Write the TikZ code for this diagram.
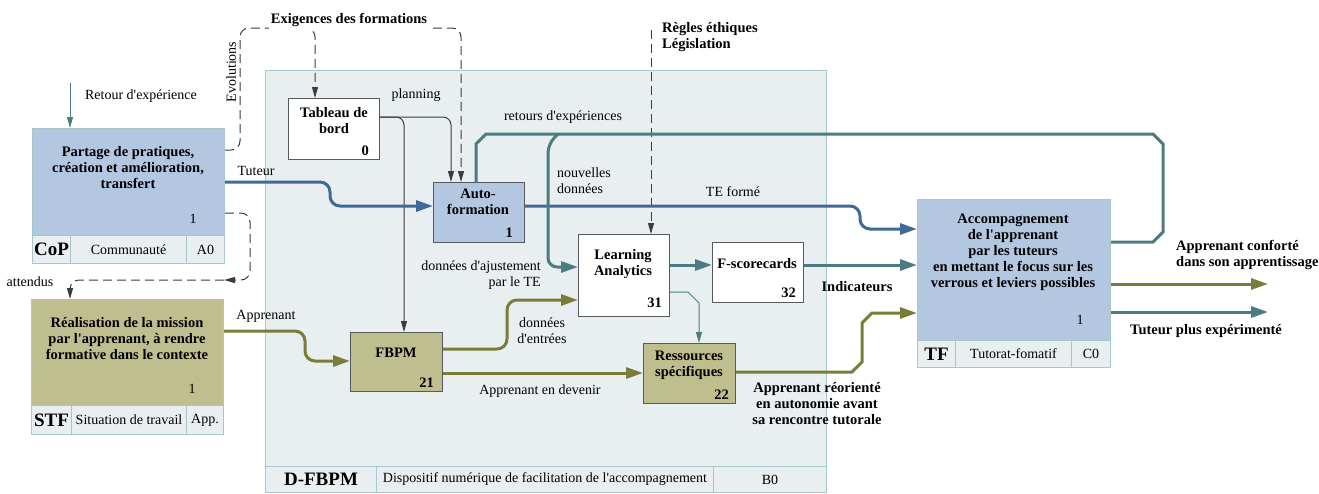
\documentclass[tikz,border=0pt]{standalone}
\usepackage{fontspec}
\setmainfont{Liberation Serif}[Ligatures=TeXOff]
\usetikzlibrary{arrows.meta}
\definecolor{framefill}{RGB}{233,239,240}
\definecolor{framec}{RGB}{166,199,203}
\definecolor{bluefill}{RGB}{180,199,225}
\definecolor{olivefill}{RGB}{190,190,143}
\definecolor{bluel}{RGB}{65,105,152}
\definecolor{teall}{RGB}{74,124,130}
\definecolor{olivel}{RGB}{122,124,58}
\definecolor{boxdark}{RGB}{85,90,96}
\definecolor{thinl}{RGB}{60,60,60}
\begin{document}
\begin{tikzpicture}[x=1pt,y=-1pt,
  font=\fontsize{14}{16}\selectfont,
  txt/.style={inner sep=0pt, align=center},
  btxt/.style={inner sep=0pt, align=center, font=\fontsize{14.5}{16}\selectfont\bfseries},
  bigtxt/.style={font=\fontsize{19}{21}\selectfont\bfseries},
  frame/.style={draw=framec, fill=framefill, line width=1pt, anchor=north west, inner sep=0pt},
  cell/.style={draw=framec, fill=framefill, line width=1pt, anchor=north west, inner sep=0pt},
  wbox/.style={draw=boxdark, fill=white, line width=1pt, anchor=north west, inner sep=0pt},
  bbox/.style={draw=boxdark, fill=bluefill, line width=1pt, anchor=north west, inner sep=0pt},
  obox/.style={draw=boxdark, fill=olivefill, line width=1pt, anchor=north west, inner sep=0pt},
  bigbbox/.style={draw=framec, fill=bluefill, line width=1pt, anchor=north west, inner sep=0pt},
  bigobox/.style={draw=framec, fill=olivefill, line width=1pt, anchor=north west, inner sep=0pt},
  thick arrow/.style={line width=3pt, rounded corners=10pt, -{Triangle[length=17pt,width=11pt]}},
  thin arrow/.style={line width=1pt, draw=thinl, rounded corners=8pt, -{Triangle[length=11pt,width=6pt]}},
  dash arrow/.style={line width=1pt, draw=thinl, dash pattern=on 9pt off 5pt, rounded corners=9pt, -{Triangle[length=11pt,width=6pt]}}
]
\useasboundingbox (0,0) rectangle (1319,493);

% ---- main frame D-FBPM
\node[frame, minimum width=561pt, minimum height=422pt] (dfbpm) at (265,70) {};
\node[cell, minimum width=111pt, minimum height=26pt, bigtxt] (dfc1) at (265,466) {D-FBPM};
\node[cell, minimum width=337pt, minimum height=26pt] (dfc2) at (376,466) {Dispositif numérique de facilitation de l'accompagnement};
\node[cell, minimum width=113pt, minimum height=26pt] (dfc3) at (713,466) {B0};

% ---- CoP
\node[bigbbox, minimum width=192pt, minimum height=107pt] (cop) at (32,128) {};
\node[btxt, anchor=north] (coptxt) at (128,146) {Partage de pratiques,\\création et amélioration,\\transfert};
\node[txt] (copn) at (193,219) {1};
\node[cell, minimum width=38pt, minimum height=28pt, bigtxt] (copc1) at (32,235) {CoP};
\node[cell, minimum width=116pt, minimum height=28pt] (copc2) at (70,235) {Communauté};
\node[cell, minimum width=38pt, minimum height=28pt] (copc3) at (186,235) {A0};

% ---- STF
\node[bigobox, minimum width=192pt, minimum height=106pt] (stf) at (31,299) {};
\node[btxt, anchor=north] (stftxt) at (127,317) {Réalisation de la mission\\par l'apprenant, à rendre\\formative dans le contexte};
\node[txt] (stfn) at (192,389) {1};
\node[cell, minimum width=40pt, minimum height=29pt, bigtxt] (stfc1) at (31,405) {STF};
\node[cell, minimum width=115pt, minimum height=29pt] (stfc2) at (71,405) {Situation de travail};
\node[cell, minimum width=37pt, minimum height=29pt] (stfc3) at (186,405) {App.};

% ---- TF
\node[bigbbox, minimum width=193pt, minimum height=141pt] (tf) at (917,199) {};
\node[btxt, anchor=north] (tftxt) at (1013,214) {Accompagnement\\de l'apprenant\\par les tuteurs\\en mettant le focus sur les\\verrous et leviers possibles};
\node[txt] (tfn) at (1080,320) {1};
\node[cell, minimum width=38pt, minimum height=27pt, bigtxt] (tfc1) at (917,340) {TF};
\node[cell, minimum width=116pt, minimum height=27pt] (tfc2) at (955,340) {Tutorat-fomatif};
\node[cell, minimum width=39pt, minimum height=27pt] (tfc3) at (1071,340) {C0};

% ---- inner boxes
\node[wbox, minimum width=91pt, minimum height=61pt] (tdb) at (288,98) {};
\node[btxt, anchor=north] (tdbtxt) at (334,107) {Tableau de\\bord};
\node[btxt, anchor=east] (tdbn) at (369,151) {0};

\node[bbox, minimum width=91pt, minimum height=60pt] (af) at (433,182) {};
\node[btxt, anchor=north] (aftxt) at (478,189) {Auto-\\formation};
\node[btxt, anchor=east] (afn) at (513,233) {1};

\node[wbox, minimum width=91pt, minimum height=82pt] (la) at (578,234) {};
\node[btxt, anchor=north] (latxt) at (623,249) {Learning\\Analytics};
\node[btxt, anchor=east] (lan) at (662,303) {31};

\node[wbox, minimum width=91pt, minimum height=60pt] (fsc) at (712,242) {};
\node[btxt] (fsctxt) at (757,264) {F-scorecards};
\node[btxt, anchor=east] (fscn) at (796,293) {32};

\node[obox, minimum width=92pt, minimum height=59pt] (fbpm) at (350,332) {};
\node[btxt] (fbpmtxt) at (396,353) {FBPM};
\node[btxt, anchor=east] (fbpmn) at (434,383) {21};

\node[obox, minimum width=92pt, minimum height=60pt] (rs) at (643,343) {};
\node[btxt, anchor=north] (rstxt) at (689,351) {Ressources\\spécifiques};
\node[btxt, anchor=east] (rsn) at (729,395) {22};

% ---- coordinates for free ends
\coordinate (retin) at (70,83);
\coordinate (att) at (224,280);
\coordinate (rules) at (651,30);
\coordinate (outA) at (1268,284);
\coordinate (outB) at (1268,312);

% ---- connectors
\draw[line width=1pt, draw=teall, -{Triangle[length=11pt,width=6pt]}] (retin) -- (cop.north -| retin);

% dashed: Evolutions / Exigences
\draw[dash arrow] (cop.east |- 0,150) -- (240,150) -- (240,28) -- (461,28) -- (af.north -| 461,0);
\draw[dash arrow] (300,28) -- (315,28) -- (tdb.north -| 315,0);
% attendus
\draw[dash arrow] (cop.east |- 0,213) -- (250,213) -- (250,280) -- (att);
\draw[dash arrow] (att) -- (70,280) -- (stf.north -| 70,0);
% regles
\draw[dash arrow] (rules) -- (la.north -| rules);

% planning
\draw[thin arrow] (tdb.east |- 0,117) -- (451,117) -- (af.north -| 451,0);
\draw[thin arrow] (tdb.east |- 0,117) -- (404,117) -- (fbpm.north -| 404,0);

% Tuteur
\draw[thick arrow, draw=bluel, -{Triangle[length=17pt,width=11pt,fill=bluel]}] (cop.east |- 0,182) -- (330,182) -- (330,206) -- (af.west |- 0,206);
% TE forme
\draw[thick arrow, draw=bluel, -{Triangle[length=17pt,width=11pt,fill=bluel]}] (af.east |- 0,206) -- (860,206) -- (860,229) -- (tf.west |- 0,229);

% retours d'experiences
\draw[line width=3pt, draw=teall, line join=miter] (af.north -| 476,0) -- (476,144) -- (486,134) -- (1153,134) -- (1163,144) -- (1163,232) -- (1153,242) -- (tf.east |- 0,242);
\draw[line width=3pt, draw=teall, rounded corners=9pt, -{Triangle[length=17pt,width=11pt,fill=teall]}] (558,134) -- (548,144) -- (548,267) -- (la.west |- 0,267);

% LA -> F-scorecards -> TF
\draw[thick arrow, draw=teall, -{Triangle[length=17pt,width=11pt,fill=teall]}] (la.east |- 0,265) -- (fsc.west |- 0,265);
\draw[thick arrow, draw=teall, -{Triangle[length=17pt,width=11pt,fill=teall]}] (fsc.east |- 0,265) -- (tf.west |- 0,265);
% LA -> RS
\draw[line width=1pt, draw=teall, -{Triangle[length=11pt,width=6pt]}] (la.east |- 0,292) -- (688,292) -- (699,303) -- (rs.north -| 699,0);

% Apprenant
\draw[thick arrow, draw=olivel, -{Triangle[length=17pt,width=11pt,fill=olivel]}] (stf.east |- 0,331) -- (305,331) -- (305,361) -- (fbpm.west |- 0,361);
% FBPM -> LA
\draw[thick arrow, draw=olivel, -{Triangle[length=17pt,width=11pt,fill=olivel]}] (fbpm.east |- 0,349) -- (507,349) -- (507,300) -- (la.west |- 0,300);
% FBPM -> RS
\draw[thick arrow, draw=olivel, -{Triangle[length=17pt,width=11pt,fill=olivel]}] (fbpm.east |- 0,373) -- (rs.west |- 0,373);
% RS -> TF
\draw[line width=3pt, draw=olivel, -{Triangle[length=17pt,width=11pt,fill=olivel]}] (rs.east |- 0,372) -- (852,372) -- (862,362) -- (862,323) -- (872,313) -- (tf.west |- 0,313);
% outputs
\draw[thick arrow, draw=olivel, -{Triangle[length=17pt,width=11pt,fill=olivel]}] (tf.east |- 0,284) -- (outA);
\draw[thick arrow, draw=teall, -{Triangle[length=17pt,width=11pt,fill=teall]}] (tf.east |- 0,312) -- (outB);

% ---- labels
\node[txt] (lret) at (141,96) {Retour d'expérience};
\node[txt, rotate=90] (levo) at (231,72) {Evolutions};
\node[btxt, fill=white, inner sep=2pt] (lexi) at (349,20) {Exigences des formations};
\node[txt] (lplan) at (416,95) {planning};
\node[txt] (ltut) at (256,171) {Tuteur};
\node[txt] (lretours) at (563,117) {retours d'expériences};
\node[txt, align=left, anchor=west] (lnouv) at (557,181) {nouvelles\\données};
\node[txt] (lte) at (733,192) {TE formé};
\node[btxt, align=left, anchor=west] (lregles) at (662,37) {Règles éthiques\\Législation};
\node[txt, align=right, anchor=east] (lajust) at (541,275) {données d'ajustement\\par le TE};
\node[txt] (lentrees) at (542,331) {données\\d'entrées};
\node[txt] (lappr) at (266,316) {Apprenant};
\node[txt] (ldevenir) at (540,391) {Apprenant en devenir};
\node[btxt] (lind) at (857,287) {Indicateurs};
\node[btxt] (lreor) at (817,404) {Apprenant réorienté\\en autonomie avant\\sa rencontre tutorale};
\node[btxt, align=left, anchor=west] (lconf) at (1176,255) {Apprenant conforté\\dans son apprentissage};
\node[btxt] (ltplus) at (1206,331) {Tuteur plus expérimenté};
\node[txt] (latt) at (30,282) {attendus};
\end{tikzpicture}
\end{document}
